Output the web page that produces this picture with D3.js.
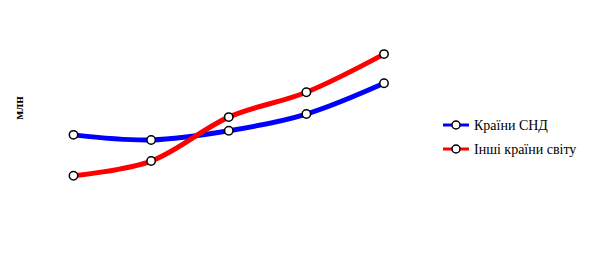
<html>
<head>
<meta charset="UTF-8">
<script src="https://d3js.org/d3.v7.min.js"></script>
<style>
  body { margin: 0; background: #fff; }
  text { font-family: "Liberation Serif", "DejaVu Serif", serif; }
</style>
</head>
<body>
<svg id="chart" width="594" height="279"></svg>
<script>
// data
let periods = ["1", "2", "3", "4", "5"];
let cisValues = [46.9, 44.9, 48.5, 55.1, 67.2];
let otherValues = [30.8, 36.6, 53.9, 63.7, 78.7];
let seriesNames = ["Країни СНД", "Інші країни світу"];
let seriesColors = ["#0000ff", "#ff0000"];
let axisTitle = "млн";

let svg = d3.select("svg#chart");
let width = svg.attr("width");
let height = svg.attr("height");

// scales
let x = d3.scalePoint()
          .domain(periods)
          .range([73.5, 384]);
let y = d3.scaleLinear()
          .domain([0, 100])
          .range([254, 0]);

// rotated axis title on the left
svg.append("text")
   .attr("transform", "translate(23,108) rotate(-90)")
   .attr("text-anchor", "middle")
   .attr("font-size", 13)
   .attr("font-weight", "bold")
   .attr("fill", "black")
   .text(axisTitle);

let line = d3.line()
             .x((d, i) => x(periods[i]))
             .y(d => y(d))
             .curve(d3.curveCatmullRom.alpha(0.5));

let allSeries = [cisValues, otherValues];

// lines
allSeries.forEach((vals, k) => {
    svg.append("path")
       .attr("d", line(vals))
       .attr("fill", "none")
       .attr("stroke", seriesColors[k])
       .attr("stroke-width", 5)
       .attr("stroke-linejoin", "round");
});

// markers
allSeries.forEach((vals, k) => {
    vals.forEach((v, i) => {
        svg.append("circle")
           .attr("cx", x(periods[i]))
           .attr("cy", y(v))
           .attr("r", 4.2)
           .attr("fill", "white")
           .attr("stroke", "black")
           .attr("stroke-width", 1.5);
    });
});

// legend
seriesNames.forEach((name, k) => {
    let ly = 125 + k * 24;
    svg.append("line")
       .attr("x1", 443).attr("x2", 469)
       .attr("y1", ly).attr("y2", ly)
       .attr("stroke", seriesColors[k])
       .attr("stroke-width", 3);
    svg.append("circle")
       .attr("cx", 456).attr("cy", ly)
       .attr("r", 4)
       .attr("fill", "white")
       .attr("stroke", "black")
       .attr("stroke-width", 1.5);
    svg.append("text")
       .attr("x", 474).attr("y", ly + 5)
       .attr("font-size", 14)
       .attr("fill", "black")
       .text(name);
});
</script>
</body>
</html>
